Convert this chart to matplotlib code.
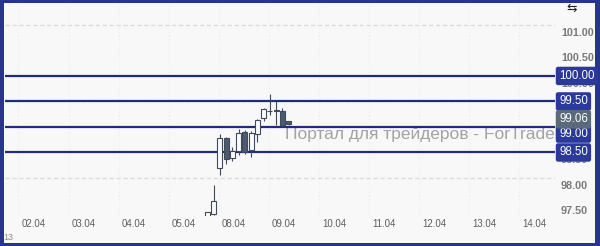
import matplotlib
matplotlib.use("Agg")
import matplotlib.pyplot as plt
import matplotlib.transforms as mtransforms
from matplotlib.patches import Rectangle

plt.rcParams["font.family"] = ["Liberation Sans", "DejaVu Sans"]

# ---- data ----
day_labels = ["02.04", "03.04", "04.04", "05.04", "08.04", "09.04",
              "10.04", "11.04", "12.04", "13.04", "14.04"]
candle_t = [3.46875, 3.59375, 3.71875, 3.84375, 3.96875, 4.09375, 4.21875,
            4.34375, 4.46875, 4.59375, 4.71875, 4.84375, 4.96875, 5.09375]
opens  = [97.20, 97.29, 98.20, 98.78, 98.39, 98.53, 98.90, 98.55, 98.86, 99.18, 99.31, 99.33, 99.31, 99.12]
highs  = [97.34, 97.86, 98.86, 98.80, 98.61, 98.96, 98.94, 98.92, 99.16, 99.38, 99.65, 99.51, 99.37, 99.12]
lows   = [97.15, 97.28, 98.06, 98.27, 98.33, 98.45, 98.47, 98.41, 98.71, 99.12, 99.24, 99.04, 99.00, 99.04]
closes = [97.33, 97.55, 98.78, 98.37, 98.53, 98.88, 98.51, 98.88, 99.14, 99.35, 99.32, 99.32, 99.04, 99.06]
level_lines = [100.00, 99.50, 99.00, 98.50]
last_price = 99.06
ytick_vals = [97.50, 98.00, 98.50, 99.00, 99.50, 100.00, 100.50, 101.00]
grid_vals = [101.00, 99.50, 98.00]
watermark = "Портал для трейдеров - ForTrader.ru"

W, H = 600, 246
fig = plt.figure(figsize=(W / 100, H / 100), dpi=100, facecolor="#28358c")
fig.patches.append(Rectangle((4 / W, 3 / H), 591 / W, 240 / H,
                             transform=fig.transFigure, facecolor="#f8f8f8",
                             edgecolor="none", zorder=-5))

ax = fig.add_axes([5 / W, (H - 216) / H, 550 / W, 212 / H])
ax.set_zorder(1)
ax.set_facecolor("none")
for s in ax.spines.values():
    s.set_visible(False)
ax.set_xlim(-0.568, 10.41)
ax.set_ylim(97.255, 101.41)

# grid
for g in grid_vals:
    ax.axhline(g, color="#dadada", lw=1.0, ls=(0, (3, 2)), zorder=1)
for i in range(len(day_labels) + 1):
    ax.axvline(i - 0.3, color="#ebebeb", lw=0.8, ls=(0, (1, 2)), zorder=1)

# watermark (behind labels)
ax.text(5.03, 99.0 - 0.14, watermark, fontsize=12.5, color="#a3a3a3",
        va="center", ha="left", zorder=2, clip_on=False)

# level lines
for v in level_lines:
    ax.axhline(v, color="#1f2b7b", lw=1.6, zorder=3)

# candles
bw = 0.1
for t, o, h, l, c in zip(candle_t, opens, highs, lows, closes):
    up = c >= o
    ax.vlines(t, l, h, color="#3f4a5c", lw=0.8, zorder=4)
    bottom = min(o, c)
    height = max(abs(c - o), 0.012)
    ax.bar(t, height, width=bw, bottom=bottom,
           facecolor="#fbfbfb" if up else "#4c5a71",
           edgecolor="#3f4a5c", lw=0.8, zorder=5)

# x ticks
ax.set_xticks(range(len(day_labels)))
ax.set_xticklabels(day_labels)
ax.tick_params(axis="x", length=0, pad=2.5, labelsize=7, labelcolor="#5e5e5e")
ax.set_yticks([])

# y tick labels (drawn below their level, as in the reference)
trans = mtransforms.blended_transform_factory(ax.transAxes, ax.transData)
lab_tr = mtransforms.offset_copy(trans, fig=fig, x=6, y=-8, units="dots")
for v in ytick_vals:
    ax.text(1.0, v, f"{v:.2f}", transform=lab_tr, fontsize=7.8,
            color="#7a7a7a", fontweight="bold", va="center", ha="left",
            clip_on=False, zorder=6)

# price boxes
box_tr = mtransforms.offset_copy(trans, fig=fig, x=4, y=0, units="dots")
box_shift = {99.00: -0.13}
for v in level_lines:
    ax.text(1.0, v + box_shift.get(v, 0.0), f"{v:.2f}", transform=box_tr,
            fontsize=8.3, color="white", va="center", ha="left", zorder=8,
            clip_on=False,
            bbox=dict(boxstyle="round,pad=0.28,rounding_size=0.2",
                      facecolor="#2b3999", edgecolor="none"))
ax.text(1.0, last_price + 0.09, f"{last_price:.2f}", transform=box_tr,
        fontsize=8.3, color="white", va="center", ha="left", zorder=9,
        clip_on=False,
        bbox=dict(boxstyle="round,pad=0.28,rounding_size=0.2",
                  facecolor="#5b6a7a", edgecolor="none"))

# misc texts
fig.text(3 / W, 1 - 238 / H, "13", fontsize=6.5, color="#8a8a8a",
         va="center", ha="left")
fig.text(572 / W, 1 - 8 / H, "⇆", fontsize=9, color="#222222",
         va="center", ha="center", family="DejaVu Sans")

fig.savefig("out.png", dpi=100, facecolor=fig.get_facecolor())
